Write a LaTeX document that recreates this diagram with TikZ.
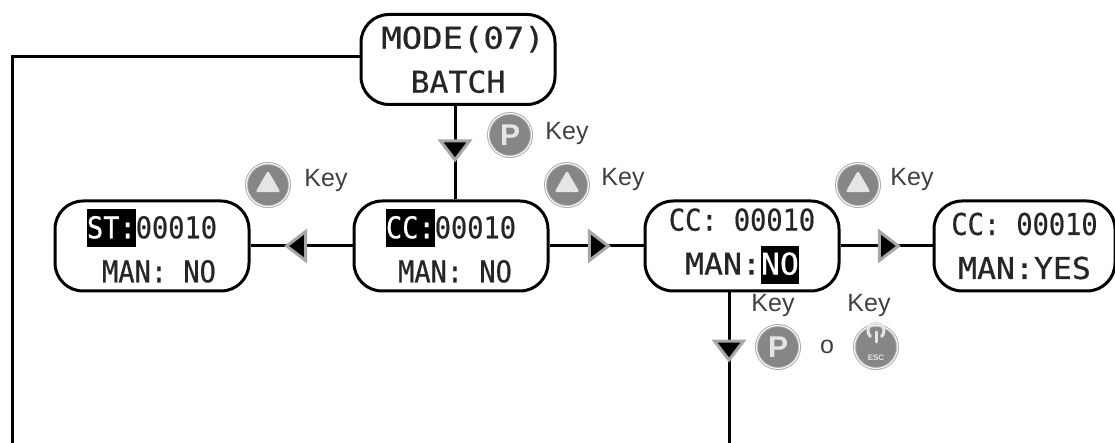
\documentclass[tikz,border=0pt]{standalone}
\usepackage{fontspec}
\setmainfont{Liberation Sans}
\newfontfamily\lcdfont[FakeStretch=0.9,FakeBold=0.6]{DejaVu Sans Mono}
\newfontfamily\lcdwide[FakeStretch=1.05,FakeBold=0.6]{DejaVu Sans Mono}
\newfontfamily\lcdmode[FakeStretch=1.13,FakeBold=0.6]{DejaVu Sans Mono}
\usetikzlibrary{shapes.geometric, positioning, calc}
\newcommand{\inv}[1]{{\fboxsep=0pt\colorbox{black}{\textcolor{white}{\rule[-9pt]{0pt}{38pt}#1}}}}

\begin{document}
\begin{tikzpicture}[
    x=1pt, y=-1pt,
    screen/.style={rectangle, draw, rounded corners=28pt, line width=3pt, minimum width=194pt, minimum height=90pt, inner sep=0pt, align=center, font=\lcdfont\fontsize{30}{44}\selectfont, text=black!85},
    link/.style={line width=3pt},
    flow/.style={isosceles triangle, isosceles triangle apex angle=75, isosceles triangle stretches, draw=gray!70, fill=black, line width=3pt, minimum width=29pt, minimum height=19pt, inner sep=0pt},
    keybtn/.style={circle, fill=gray!95, draw=gray!65, double=white, double distance=1pt, line width=1pt, minimum size=43pt, inner sep=0pt, text=gray!20, font=\bfseries\fontsize{30}{30}\selectfont},
    uptri/.style={regular polygon, regular polygon sides=3, fill=gray!20, draw=gray!20, rounded corners=2pt, minimum size=28pt, inner sep=0pt},
    keytext/.style={font=\fontsize{25}{25}\selectfont, text=black!75, inner sep=0pt}
]
\useasboundingbox (0,0) rectangle (1115,443);

% Screens
\node[screen] (mode) at (458,59.5) {\hspace*{10pt}{\lcdmode MODE(07)}\\{\lcdwide BATCH}};

\node[screen] (cc) at (451,246) {\inv{CC:}00010\\\hspace*{8pt}MAN: NO};

\node[screen, left=102pt of cc] (st) {\inv{ST:}00010\\\hspace*{14pt}MAN: NO};

\node[screen, right=94pt of cc] (man) {CC: 00010\\{\lcdwide MAN:}\inv{\lcdwide NO}};

\node[screen, right=92pt of man, minimum width=181pt] (yes) {CC: 00010\\{\lcdwide MAN:YES}};

% Free ends
\coordinate (leftend) at (12,443);
\coordinate (downend) at (729,443);

% Connectors
\draw[link] ([yshift=3pt]mode.west) -| (leftend);
\draw[link] ([xshift=-3pt]mode.south) -- node[flow, pos=0.45, shape border rotate=-90] (flowa) {} ([xshift=4pt]cc.north);
\draw[link] (cc) -- node[flow, pos=0.53, shape border rotate=180] (flowb) {} (st);
\draw[link] (cc) -- node[flow, pos=0.5] (flowc) {} (man);
\draw[link] (man) -- node[flow, pos=0.5] (flowd) {} (yes);
\draw[link] (downend |- man.south) -- node[flow, pos=0.37, shape border rotate=-90] (flowe) {} (downend);

% Keys
\node[keybtn] (keyp) at (510,135) {P};
\node[keytext] (keyptext) at (567,133) {Key};

\node[keybtn] (keyst) at (268,185) {};
\node[uptri] at (keyst) {};
\node[keytext] (keysttext) at (326,180) {Key};

\node[keybtn] (keycc) at (567,185) {};
\node[uptri] at (keycc) {};
\node[keytext] (keycctext) at (623,179) {Key};

\node[keybtn] (keyman) at (858,185) {};
\node[uptri] at (keyman) {};
\node[keytext] (keymantext) at (912,179) {Key};

\node[keybtn] (keyq) at (778,347) {P};
\node[keytext] (keyqtext) at (773,305) {Key};
\node[keytext] (ortext) at (827,347) {o};
\node[keybtn] (keyesc) at (876,347) {};
\node[keytext] (keyesctext) at (869,305) {Key};

\draw[gray!20, line width=3pt, line cap=round] ($(keyesc)+(5.6,-10.6)$) arc[start angle=-45, end angle=225, radius=8pt];
\draw[gray!20, line width=3pt, line cap=round] ($(keyesc)+(0,-15)$) -- ($(keyesc)+(0,-5)$);
\node[text=gray!20, font=\bfseries\fontsize{8}{8}\selectfont, inner sep=0pt] (esctext) at ($(keyesc)+(0,11)$) {ESC};

\end{tikzpicture}
\end{document}
